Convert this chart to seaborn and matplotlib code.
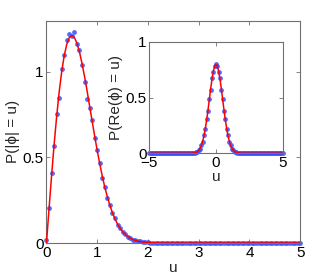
import numpy as np
import matplotlib
matplotlib.use("Agg")
import matplotlib.pyplot as plt
import seaborn as sns

# ------------------------------------
# DATA
# ------------------------------------

# main panel: P(|phi| = u), sampled every 0.05 on 0..5
u_step = 0.05
p_abs_line = [0.0, 0.199, 0.392, 0.574, 0.738, 0.882, 1.002, 1.096, 1.162, 1.201,
              1.213, 1.202, 1.168, 1.117, 1.051, 0.974, 0.890, 0.801, 0.713, 0.625,
              0.541, 0.463, 0.391, 0.326, 0.270, 0.220, 0.177, 0.141, 0.111, 0.087,
              0.067, 0.051, 0.038, 0.028, 0.021, 0.015, 0.011, 0.008, 0.006, 0.004,
              0.003, 0.002, 0.001, 0.001, 0.0005] + [0.0] * 56
p_abs_dots = [0.02, 0.205, 0.41, 0.57, 0.755, 0.845, 1.02, 1.10, 1.185, 1.223,
              1.213, 1.233, 1.165, 1.126, 1.04, 0.94, 0.84, 0.79, 0.72, 0.615,
              0.545, 0.47, 0.38, 0.33, 0.265, 0.225, 0.175, 0.145, 0.108, 0.09,
              0.065, 0.053, 0.036, 0.03, 0.02, 0.016, 0.01, 0.009, 0.005, 0.004,
              0.003, 0.002, 0.001, 0.001, 0.0] + [0.0] * 56

# inset: P(Re(phi) = u), sampled every 0.1 on -5..5
v_step = 0.1
p_re_half = [0.798, 0.782, 0.737, 0.666, 0.580, 0.484, 0.388, 0.300, 0.222, 0.158,
             0.108, 0.071, 0.045, 0.027, 0.016, 0.009, 0.005, 0.0025, 0.0012, 0.0006,
             0.0003] + [0.0] * 30
p_re_line = p_re_half[:0:-1] + p_re_half
p_re_dots_half = [0.80, 0.785, 0.73, 0.675, 0.57, 0.49, 0.38, 0.31, 0.215, 0.165,
                  0.10, 0.075, 0.04, 0.03, 0.014, 0.01, 0.004, 0.003, 0.001, 0.0,
                  0.0] + [0.0] * 30
p_re_dots = p_re_dots_half[:0:-1] + p_re_dots_half

u_main = np.arange(len(p_abs_line)) * u_step
u_inset = (np.arange(len(p_re_line)) - (len(p_re_half) - 1)) * v_step

# ------------------------------------
# STYLE
# ------------------------------------

sns.set_style("ticks")
plt.rcParams["font.family"] = ["Liberation Sans", "DejaVu Sans"]
plt.rcParams["font.size"] = 11
plt.rcParams["axes.edgecolor"] = "#707070"
plt.rcParams["axes.linewidth"] = 0.8
plt.rcParams["xtick.color"] = "#707070"
plt.rcParams["ytick.color"] = "#707070"
plt.rcParams["xtick.labelcolor"] = "black"
plt.rcParams["ytick.labelcolor"] = "black"

dot_color = "#3350ff"
line_color = "#ff0000"

fig = plt.figure(figsize=(3.32, 2.79), dpi=100)


def style_axes(ax):
    ax.tick_params(direction="in", length=3, width=0.6, top=True, right=True,
                   labelsize=11, pad=2)
    for s in ax.spines.values():
        s.set_visible(True)


# ------------------------------------
# MAIN PANEL
# ------------------------------------

ax = fig.add_axes([0.140, 0.129, 0.764, 0.797])
sns.scatterplot(x=u_main, y=p_abs_dots, ax=ax, color=dot_color, s=12,
                linewidth=0, alpha=0.85, clip_on=False, zorder=2)
sns.lineplot(x=u_main, y=p_abs_line, ax=ax, color=line_color, linewidth=1.1,
             zorder=3)
ax.set_xlim(0, 5)
ax.set_ylim(0, 1.3)
ax.set_xticks([0, 1, 2, 3, 4, 5])
ax.set_yticks([0, 0.5, 1])
ax.set_yticklabels(["0", "0.5", "1"])
ax.set_xlabel("u", labelpad=1)
ax.set_ylabel("P(|ϕ| = u)", labelpad=2)
style_axes(ax)

# ------------------------------------
# INSET
# ------------------------------------

axi = fig.add_axes([0.4497, 0.4505, 0.4018, 0.399])
axi.set_facecolor("white")
sns.scatterplot(x=u_inset, y=p_re_dots, ax=axi, color=dot_color, s=12,
                linewidth=0, alpha=0.85, clip_on=False, zorder=2)
sns.lineplot(x=u_inset, y=p_re_line, ax=axi, color=line_color, linewidth=1.1,
             zorder=3)
axi.set_xlim(-5, 5)
axi.set_ylim(0, 1)
axi.set_xticks([-5, 0, 5])
axi.set_yticks([0, 0.5, 1])
axi.set_yticklabels(["0", "0.5", "1"])
axi.set_xlabel("u", labelpad=0)
axi.set_ylabel("P(Re(ϕ) = u)", labelpad=2)
style_axes(axi)

fig.savefig("out.png", dpi=100)
